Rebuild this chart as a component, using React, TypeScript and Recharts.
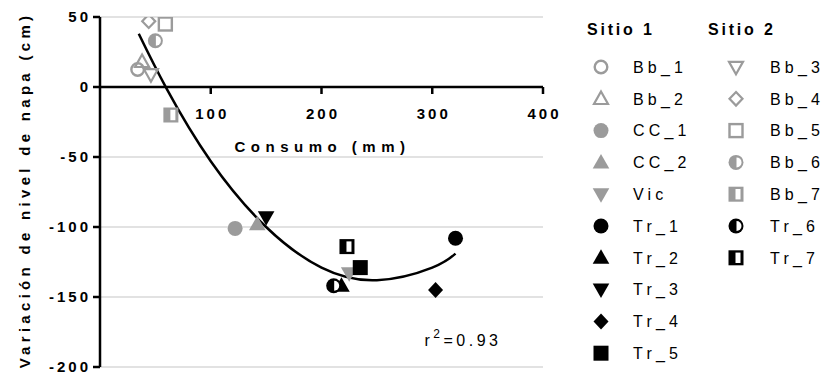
import React from 'react';
import {
  ComposedChart,
  Scatter,
  Line,
  XAxis,
  YAxis,
  CartesianGrid,
  ReferenceLine,
  ReferenceDot,
  Legend,
} from 'recharts';

// ---------- data ----------
const sitio1Series = ['Bb_1', 'Bb_2', 'CC_1', 'CC_2', 'Vic', 'Tr_1', 'Tr_2', 'Tr_3', 'Tr_4', 'Tr_5'];
const sitio1Consumo = [34, 38, 122, 142, 225, 321, 218, 150, 303, 235];
const sitio1Variacion = [12.5, 18, -101, -98, -133, -108, -142, -93, -145, -129];

const sitio2Series = ['Bb_3', 'Bb_4', 'Bb_5', 'Bb_6', 'Bb_7', 'Tr_6', 'Tr_7'];
const sitio2Consumo = [46, 44, 59, 50, 64, 211, 223];
const sitio2Variacion = [9, 47, 45, 33, -20, -142, -114];

const curveConsumo = [35, 60, 100, 150, 200, 250, 300, 321];
const curveVariacion = [38, -1, -53, -100, -129, -138, -129, -119];

const xTicks = [0, 100, 200, 300, 400];
const xTickLabels = ['100', '200', '300', '400'];
const yTicks = [50, 0, -50, -100, -150, -200];

const legendTitles = ['Sitio 1', 'Sitio 2'];
const xTitle = 'Consumo (mm)';
const yTitle = 'Variación de nivel de napa (cm)';
const r2Value = '0.93';

// ---------- styles ----------
const FONT = "'Liberation Sans', Arial, Helvetica, sans-serif";
const GRAY = '#9b9b9b';
const BLACK = '#000000';

const markerStyle: Record<string, { kind: string; color: string }> = {
  Bb_1: { kind: 'circleOpen', color: GRAY },
  Bb_2: { kind: 'triangleOpen', color: GRAY },
  CC_1: { kind: 'circle', color: GRAY },
  CC_2: { kind: 'triangle', color: GRAY },
  Vic: { kind: 'triangleDown', color: GRAY },
  Tr_1: { kind: 'circle', color: BLACK },
  Tr_2: { kind: 'triangle', color: BLACK },
  Tr_3: { kind: 'triangleDown', color: BLACK },
  Tr_4: { kind: 'diamond', color: BLACK },
  Tr_5: { kind: 'square', color: BLACK },
  Bb_3: { kind: 'triangleDownOpen', color: GRAY },
  Bb_4: { kind: 'diamondOpen', color: GRAY },
  Bb_5: { kind: 'squareOpen', color: GRAY },
  Bb_6: { kind: 'halfCircle', color: GRAY },
  Bb_7: { kind: 'halfSquare', color: GRAY },
  Tr_6: { kind: 'halfCircle', color: BLACK },
  Tr_7: { kind: 'halfSquare', color: BLACK },
};

function Marker({ kind, color, cx, cy }: { kind: string; color: string; cx: number; cy: number }) {
  if (cx == null || cy == null || isNaN(cx) || isNaN(cy)) return null;
  switch (kind) {
    case 'circle':
      return <circle cx={cx} cy={cy} r={7.5} fill={color} />;
    case 'circleOpen':
      return <circle cx={cx} cy={cy} r={6.3} fill="none" stroke={color} strokeWidth={2.4} />;
    case 'triangle':
      return <polygon points={`${cx},${cy - 8.5} ${cx + 8.3},${cy + 6} ${cx - 8.3},${cy + 6}`} fill={color} />;
    case 'triangleOpen':
      return (
        <polygon
          points={`${cx},${cy - 7.3} ${cx + 7},${cy + 5.2} ${cx - 7},${cy + 5.2}`}
          fill="none"
          stroke={color}
          strokeWidth={2.2}
        />
      );
    case 'triangleDown':
      return <polygon points={`${cx},${cy + 8.5} ${cx + 8.3},${cy - 6} ${cx - 8.3},${cy - 6}`} fill={color} />;
    case 'triangleDownOpen':
      return (
        <polygon
          points={`${cx},${cy + 7.3} ${cx + 7},${cy - 5.2} ${cx - 7},${cy - 5.2}`}
          fill="none"
          stroke={color}
          strokeWidth={2.2}
        />
      );
    case 'diamond':
      return <polygon points={`${cx},${cy - 8} ${cx + 7.5},${cy} ${cx},${cy + 8} ${cx - 7.5},${cy}`} fill={color} />;
    case 'diamondOpen':
      return (
        <polygon
          points={`${cx},${cy - 6.8} ${cx + 6.5},${cy} ${cx},${cy + 6.8} ${cx - 6.5},${cy}`}
          fill="none"
          stroke={color}
          strokeWidth={2.2}
        />
      );
    case 'square':
      return <rect x={cx - 7.5} y={cy - 7.5} width={15} height={15} fill={color} />;
    case 'squareOpen':
      return <rect x={cx - 6.5} y={cy - 6.5} width={13} height={13} fill="none" stroke={color} strokeWidth={2.4} />;
    case 'halfCircle':
      return (
        <g>
          <circle cx={cx} cy={cy} r={7.5} fill={color} />
          <path d={`M ${cx + 0.5} ${cy - 5} A 5 5 0 0 1 ${cx + 0.5} ${cy + 5} Z`} fill="#fff" />
        </g>
      );
    case 'halfSquare':
      return (
        <g>
          <rect x={cx - 7.5} y={cy - 7.5} width={15} height={15} fill={color} />
          <rect x={cx - 0.5} y={cy - 5.2} width={5} height={10.4} fill="#fff" />
        </g>
      );
    default:
      return null;
  }
}

const shapeFor = (name: string) => (props: any) => (
  <Marker kind={markerStyle[name].kind} color={markerStyle[name].color} cx={props.cx} cy={props.cy} />
);

const sitio1Data = sitio1Series.map((name, i) => ({ name, data: [{ x: sitio1Consumo[i], y: sitio1Variacion[i] }] }));
const sitio2Data = sitio2Series.map((name, i) => ({ name, data: [{ x: sitio2Consumo[i], y: sitio2Variacion[i] }] }));
const allSeries = [...sitio1Data, ...sitio2Data];
const curveData = curveConsumo.map((x, i) => ({ x, y: curveVariacion[i] }));

const tickTextStyle = {
  fill: '#000',
  fontSize: 15,
  fontWeight: 'bold' as const,
  fontFamily: FONT,
  letterSpacing: 3,
};

const renderLegend = () => {
  const rowY = (i: number) => 67 + 31.8 * i;
  return (
    <svg width={265} height={372} style={{ display: 'block', overflow: 'visible' }}>
      <text x={27} y={35} fontFamily={FONT} fontSize={16} fontWeight="bold" letterSpacing={2.8} fill="#000">
        {legendTitles[0]}
      </text>
      <text x={148} y={35} fontFamily={FONT} fontSize={16} fontWeight="bold" letterSpacing={2.8} fill="#000">
        {legendTitles[1]}
      </text>
      {sitio1Series.map((name, i) => (
        <g key={name}>
          <Marker kind={markerStyle[name].kind} color={markerStyle[name].color} cx={41} cy={rowY(i)} />
          <text x={73} y={rowY(i) + 5.8} fontFamily={FONT} fontSize={16} letterSpacing={4.2} fill="#000">
            {name}
          </text>
        </g>
      ))}
      {sitio2Series.map((name, i) => (
        <g key={name}>
          <Marker kind={markerStyle[name].kind} color={markerStyle[name].color} cx={176} cy={rowY(i)} />
          <text x={210} y={rowY(i) + 5.8} fontFamily={FONT} fontSize={16} letterSpacing={4.2} fill="#000">
            {name}
          </text>
        </g>
      ))}
    </svg>
  );
};

const YTitle = (props: any) => {
  const vb = props.viewBox || {};
  const cy = vb.y + vb.height / 2 - 2;
  const x = vb.x + 30;
  return (
    <text
      x={x}
      y={cy}
      transform={`rotate(-90, ${x}, ${cy})`}
      textAnchor="middle"
      fontFamily={FONT}
      fontSize={15}
      fontWeight="bold"
      letterSpacing={4.3}
      fill="#000"
    >
      {yTitle}
    </text>
  );
};

const XTitle = (props: any) => {
  const vb = props.viewBox || {};
  const cx = vb.x + vb.width / 2;
  return (
    <text
      x={cx + 1}
      y={vb.y + 64.5}
      textAnchor="middle"
      fontFamily={FONT}
      fontSize={15}
      fontWeight="bold"
      letterSpacing={5.5}
      fill="#000"
    >
      {xTitle}
    </text>
  );
};

const xTickLabel = (label: string) => (props: any) => {
  const vb = props.viewBox || {};
  return (
    <text x={vb.x + 1.5} y={vb.y + 32} textAnchor="middle" {...tickTextStyle}>
      {label}
    </text>
  );
};

const R2Label = (props: any) => {
  const vb = props.viewBox || {};
  const x = vb.x + (vb.width || 0) / 2;
  const y = vb.y + (vb.height || 0) / 2;
  return (
    <text x={x} y={y} fontFamily={FONT} fontSize={16} letterSpacing={3.5} fill="#000">
      r
      <tspan dy={-8} fontSize={12}>
        2
      </tspan>
      <tspan dy={8} fontSize={16}>
        ={r2Value}
      </tspan>
    </text>
  );
};

export default function App() {
  return (
    <div style={{ position: 'absolute', left: 0, top: 0, width: 825, height: 372, background: '#fff' }}>
      <ComposedChart width={825} height={372} margin={{ top: 17, right: 282, bottom: 5, left: 0 }}>
        <CartesianGrid horizontal vertical={false} stroke="#d9d9d9" strokeWidth={1.5} />
        <XAxis
          type="number"
          dataKey="x"
          domain={[0, 400]}
          ticks={xTicks}
          allowDataOverflow
          hide
        />
        <YAxis
          type="number"
          dataKey="y"
          domain={[-200, 50]}
          ticks={yTicks}
          allowDataOverflow
          width={100}
          axisLine={{ stroke: '#000', strokeWidth: 2.5 }}
          tickLine={{ stroke: '#000', strokeWidth: 2.5 }}
          tickSize={7}
          tickMargin={2}
          tick={tickTextStyle}
          interval={0}
          label={{ content: YTitle }}
        />
        <ReferenceLine y={0} stroke="#000" strokeWidth={2.5} label={{ content: XTitle }} />
        {xTicks.slice(1).map((v, i) => (
          <ReferenceLine
            key={v}
            segment={[
              { x: v, y: 0 },
              { x: v, y: -5 },
            ]}
            stroke="#000"
            strokeWidth={2.5}
            label={{ content: xTickLabel(xTickLabels[i]) }}
          />
        ))}
        <Legend
          layout="vertical"
          align="center"
          verticalAlign="middle"
          content={renderLegend}
          wrapperStyle={{ position: 'absolute', left: 560, top: 0, width: 265, height: 372, margin: 0 }}
        />
        {allSeries.map((s) => (
          <Scatter
            key={s.name}
            name={s.name}
            data={s.data}
            dataKey="y"
            shape={shapeFor(s.name)}
            isAnimationActive={false}
          />
        ))}
        <Line
          data={curveData}
          dataKey="y"
          type="natural"
          stroke="#000"
          strokeWidth={2.5}
          dot={false}
          activeDot={false}
          isAnimationActive={false}
          legendType="none"
        />
        <ReferenceDot x={293} y={-185} r={0} fill="none" stroke="none" label={{ content: R2Label }} />
      </ComposedChart>
    </div>
  );
}
